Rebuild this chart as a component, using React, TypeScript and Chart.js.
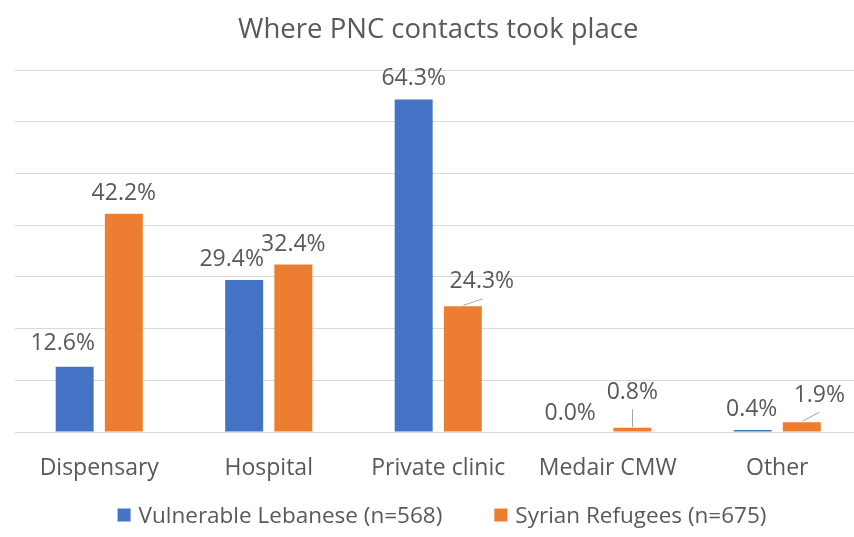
import { useEffect, useRef } from "react";
import { Chart, registerables } from "chart.js";

Chart.register(...registerables);

// Place of postnatal-care contact, share of respondents (%)
const categories = ["Dispensary", "Hospital", "Private clinic", "Medair CMW", "Other"];
const lebaneseValues = [12.6, 29.4, 64.3, 0.0, 0.4];
const syrianValues = [42.2, 32.4, 24.3, 0.8, 1.9];
const seriesNames = ["Vulnerable Lebanese (n=568)", "Syrian Refugees (n=675)"];
const chartTitle = "Where PNC contacts took place";
const yMax = 70;
const yStep = 10;

const FONT = "'Open Sans', 'Noto Sans', sans-serif";
const TEXT = "#595959";
const GRID = "#d9d9d9";
const BLUE = "#4472C4";
const ORANGE = "#ED7D31";

// Value labels drawn above each bar; a few are nudged aside with a leader line.
const valueLabels = {
  id: "valueLabels",
  afterDatasetsDraw(chart: any, _args: any, opts: any) {
    const { ctx } = chart;
    ctx.save();
    ctx.font = `${opts.size}px ${FONT}`;
    ctx.fillStyle = opts.color;
    ctx.textAlign = "center";
    ctx.textBaseline = "middle";
    chart.data.datasets.forEach((ds: any, di: number) => {
      const meta = chart.getDatasetMeta(di);
      meta.data.forEach((bar: any, i: number) => {
        const v = ds.data[i] as number;
        const [dx, dy] = opts.offsets[di][i];
        const { x, y } = bar.getProps(["x", "y"], true);
        const lx = x + dx;
        const ly = y + opts.gap + dy;
        if (opts.leaders[di][i]) {
          ctx.strokeStyle = opts.leaderColor;
          ctx.lineWidth = 1;
          ctx.beginPath();
          ctx.moveTo(Math.round(x) + 0.5, y - 1);
          ctx.lineTo(Math.round(lx) + 0.5, ly + 17);
          ctx.stroke();
        }
        ctx.fillText(`${v.toFixed(1)}%`, lx, ly);
      });
    });
    ctx.restore();
  },
};

// Single-row legend under the axis: square swatch, label, wide gap between entries.
const rowLegend = {
  id: "rowLegend",
  afterDraw(chart: any, _args: any, opts: any) {
    const { ctx } = chart;
    ctx.save();
    ctx.font = `${opts.size}px ${FONT}`;
    ctx.textBaseline = "middle";
    ctx.textAlign = "left";
    const items = chart.data.datasets.map((ds: any) => ({
      text: ds.label as string,
      color: ds.backgroundColor as string,
      w: ctx.measureText(ds.label).width,
    }));
    const total =
      items.reduce((s: number, it: any) => s + opts.box + opts.boxGap + it.w, 0) +
      opts.itemGap * (items.length - 1);
    let x = opts.centerX - total / 2;
    const y = opts.y;
    items.forEach((it: any) => {
      ctx.fillStyle = it.color;
      ctx.fillRect(x, y - 2 - opts.box / 2, opts.box, opts.box);
      x += opts.box + opts.boxGap;
      ctx.fillStyle = opts.color;
      ctx.fillText(it.text, x, y);
      x += it.w + opts.itemGap;
    });
    ctx.restore();
  },
};

export default function App() {
  const ref = useRef<HTMLCanvasElement>(null);

  useEffect(() => {
    if (!ref.current) return;
    const chart = new Chart(ref.current, {
      type: "bar",
      data: {
        labels: categories,
        datasets: [
          { label: seriesNames[0], data: lebaneseValues, backgroundColor: BLUE },
          { label: seriesNames[1], data: syrianValues, backgroundColor: ORANGE },
        ],
      },
      plugins: [valueLabels, rowLegend],
      options: {
        animation: false,
        responsive: false,
        devicePixelRatio: 1,
        // the plot runs slightly past the visible right edge
        layout: { padding: { left: 14.5, right: 13, top: 0, bottom: 45 } },
        datasets: {
          bar: { categoryPercentage: 0.58, barPercentage: 0.772 },
        },
        scales: {
          x: {
            grid: { display: false },
            border: { display: false },
            ticks: {
              color: TEXT,
              font: { family: FONT, size: 23 },
              padding: 14.5,
              maxRotation: 0,
              autoSkip: false,
            },
            afterFit: (s: any) => {
              s.height = 60;
            },
          },
          y: {
            min: 0,
            max: yMax,
            ticks: { display: false, stepSize: yStep },
            grid: { color: GRID, lineWidth: 1, drawTicks: false },
            border: { display: false },
            afterFit: (s: any) => {
              s.width = 0;
            },
          },
        },
        plugins: {
          title: {
            display: true,
            text: chartTitle,
            color: TEXT,
            font: { family: FONT, size: 27.5, weight: "normal" },
            padding: { top: 13.5, bottom: 23.5 },
          },
          legend: { display: false },
          tooltip: { enabled: false },
          valueLabels: {
            size: 23,
            color: TEXT,
            leaderColor: "#a6a6a6",
            gap: -21,
            offsets: [
              [[-12, -2.3], [-12.5, 0], [0, 0], [-13, 2], [-1, 0.7]],
              [[0, 0.7], [0, 1.4], [19, -3.5], [0, -14.6], [17.5, -6]],
            ],
            leaders: [
              [false, false, false, false, false],
              [false, false, true, true, true],
            ],
          },
          rowLegend: {
            size: 22.5,
            color: TEXT,
            box: 13,
            boxGap: 8,
            itemGap: 52,
            centerX: 442,
            y: 517,
          },
        } as any,
      },
    });
    return () => chart.destroy();
  }, []);

  return (
    <div
      style={{
        position: "fixed",
        left: 0,
        top: 0,
        width: 854,
        height: 537,
        overflow: "hidden",
        background: "#fff",
      }}
    >
      <canvas ref={ref} width={875} height={537} style={{ display: "block" }} />
    </div>
  );
}
